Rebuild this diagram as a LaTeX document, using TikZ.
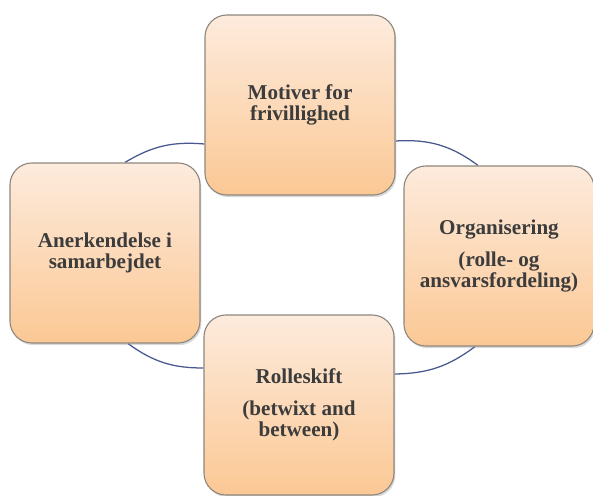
\documentclass[tikz,border=0pt]{standalone}
\usepackage{fontspec}
\setmainfont{Liberation Serif}
\usepackage{tikz}
\usetikzlibrary{shadows,backgrounds}

\definecolor{boxtop}{HTML}{FDEBDD}
\definecolor{boxbottom}{HTML}{FBC894}
\definecolor{boxline}{HTML}{8E8880}
\definecolor{arcblue}{HTML}{4A5890}
\definecolor{textgray}{HTML}{3C3C3C}

\begin{document}
\begin{tikzpicture}[
            x=0.025cm, y=-0.025cm,
            mybox/.style={
            draw=boxline,
            line width=0.8pt,
            rounded corners=0.55cm,
            top color=boxtop,
            bottom color=boxbottom,
            minimum width=4.75cm,
            minimum height=4.5cm,
            text width=4.3cm,
            align=flush center,
            text=textgray,
            font=\fontsize{15}{15}\selectfont\bfseries,
            drop shadow={shadow xshift=1pt,shadow yshift=-1.5pt,opacity=0.3}
            },
            myarc/.style={
            draw=arcblue,
            line width=0.9pt
            }
            ]
            \useasboundingbox (0,0) rectangle (593,495);
            \foreach \Name/\X/\Y/\Text in {
              motiv/300/105/{Motiver for\\frivillighed},
              organ/499/256/{Organisering\\[8pt](rolle- og\\ansvarsfordeling)},
              anerk/105/253/{Anerkendelse i\\samarbejdet},
              rolle/299/405/{Rolleskift\\[8pt](betwixt and\\between)}}
            \node[mybox] (\Name) at (\X,\Y) {\Text};
            \begin{scope}[on background layer]
            \path[myarc]
            ([xshift=0.5cm]anerk.north) edge[bend left=18] ([yshift=-0.975cm]motiv.west)
            ([yshift=-0.9cm]motiv.east) edge[bend left=20] ([xshift=-0.525cm]organ.north)
            ([xshift=-0.6cm]organ.south) edge[bend left=18] ([yshift=0.775cm]rolle.east)
            ([yshift=0.925cm]rolle.west) edge[bend left=18] ([xshift=0.575cm]anerk.south);
            \end{scope}
        \end{tikzpicture}
\end{document}
